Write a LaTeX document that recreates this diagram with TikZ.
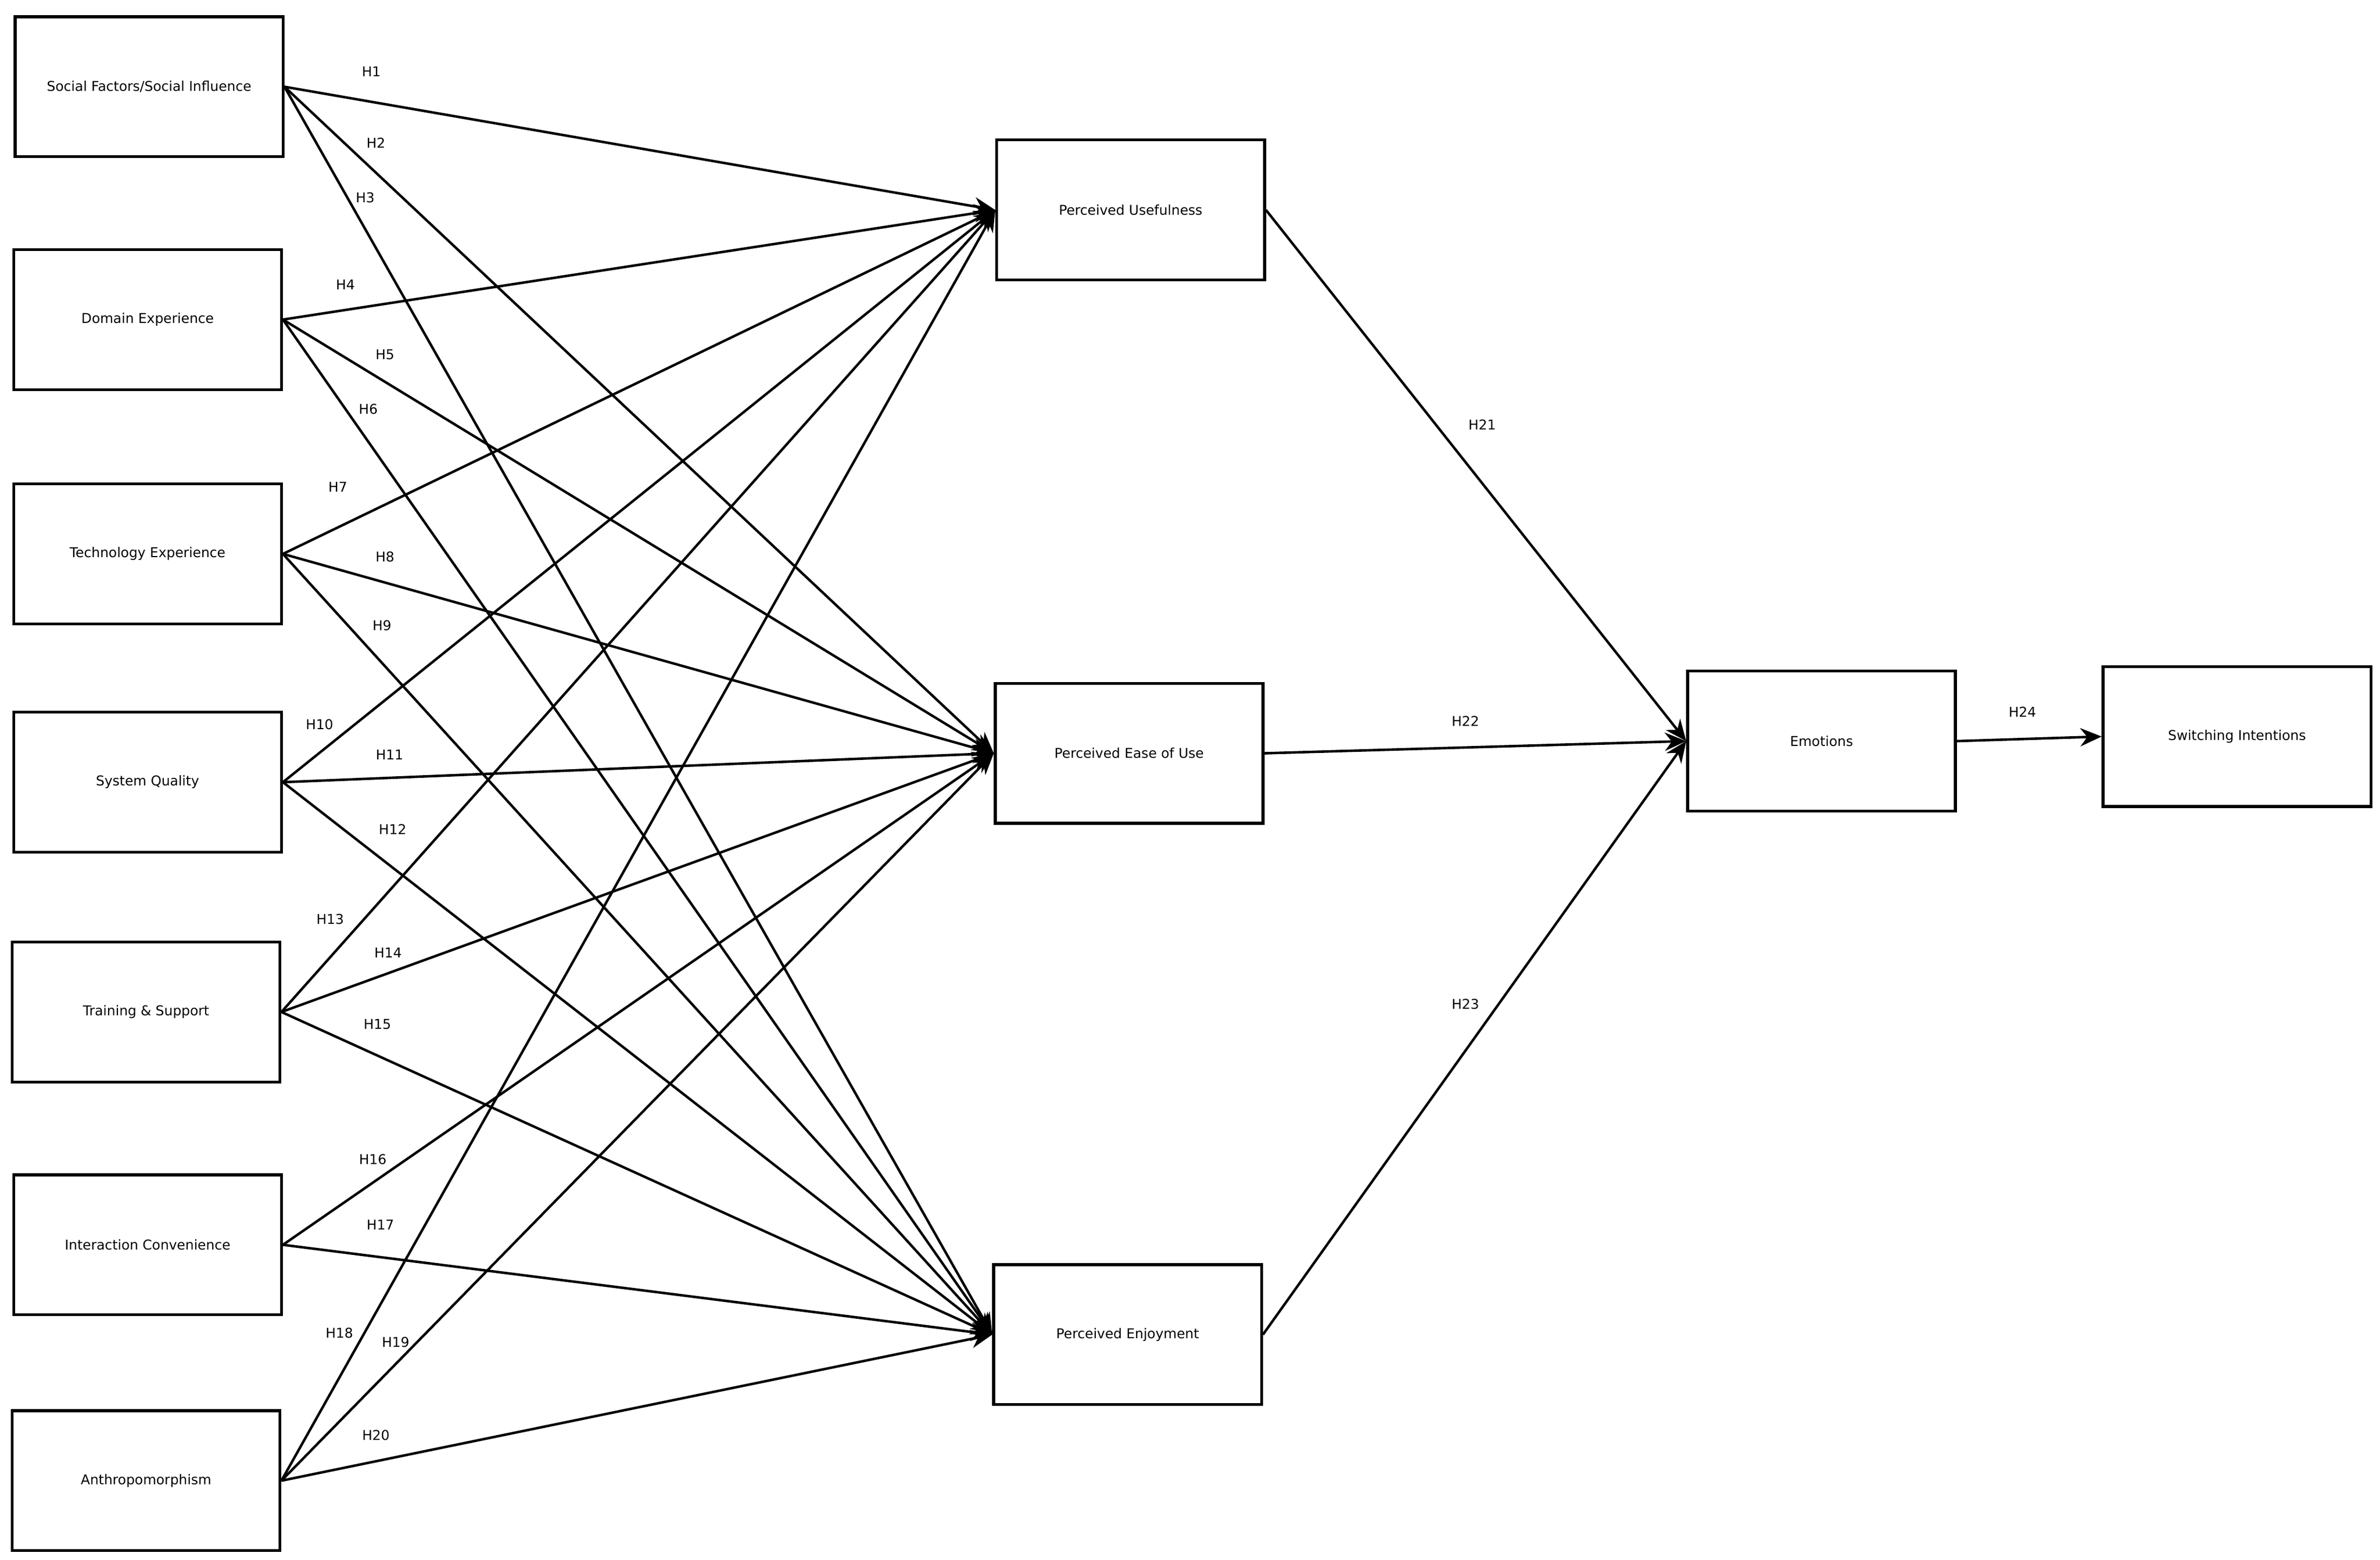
\documentclass[tikz,border=0pt]{standalone}
\usepackage{fontspec}
\setmainfont{DejaVu Sans}
\usetikzlibrary{arrows.meta}
\begin{document}
\begin{tikzpicture}[x=0.3mm,y=-0.3mm,
  box/.style={draw,line width=1.6pt,minimum width=176*0.3mm,minimum height=92*0.3mm,inner sep=0pt,font=\fontsize{7.6}{9}\selectfont},
  lab/.style={font=\fontsize{7.6}{9}\selectfont},
  arr/.style={line width=1.4pt,-{Stealth[length=4.2mm,width=3.6mm]}}]
\useasboundingbox[fill=white] (0,0) rectangle (1564,1025);
\node[box] (sf) at (98,57) {Social Factors/Social Influence};
\node[box] (de) at (97,210) {Domain Experience};
\node[box] (te) at (97,364) {Technology Experience};
\node[box] (sq) at (97,514) {System Quality};
\node[box] (ts) at (96,665) {Training \& Support};
\node[box] (ic) at (97,818) {Interaction Convenience};
\node[box] (an) at (96,973) {Anthropomorphism};
\node[box] (pu) at (743,138) {Perceived Usefulness};
\node[box] (pe) at (742,495) {Perceived Ease of Use};
\node[box] (pj) at (741,877) {Perceived Enjoyment};
\node[box] (em) at (1197,487) {Emotions};
\node[box] (si) at (1470,484) {Switching Intentions};
\foreach \s in {sf,de,te,sq,ts,an}{
  \draw[arr] (\s.east) -- (pu.west);
  \draw[arr] (\s.east) -- (pe.west);
  \draw[arr] (\s.east) -- (pj.west);}
\draw[arr] (ic.east) -- (pe.west);
\draw[arr] (ic.east) -- (pj.west);
\draw[arr] (pu.east) -- (em.west);
\draw[arr] (pe.east) -- (em.west);
\draw[arr] (pj.east) -- (em.west);
\draw[arr] (em.east) -- (si.west);
\foreach \t/\x/\y in {H1/244/47,H2/247/94,H3/240/130,H4/227/187,H5/253/233,H6/242/269,H7/222/320,H8/253/366,H9/251/411,H10/210/476,H11/256/496,H12/258/545,H13/217/604,H14/255/626,H15/248/673,H16/245/762,H17/250/805,H18/223/876,H19/260/882,H20/247/943,H21/974/279,H22/963/474,H23/963/660,H24/1329/468}
  \node[lab] at (\x,\y) {\t};
\end{tikzpicture}
\end{document}
